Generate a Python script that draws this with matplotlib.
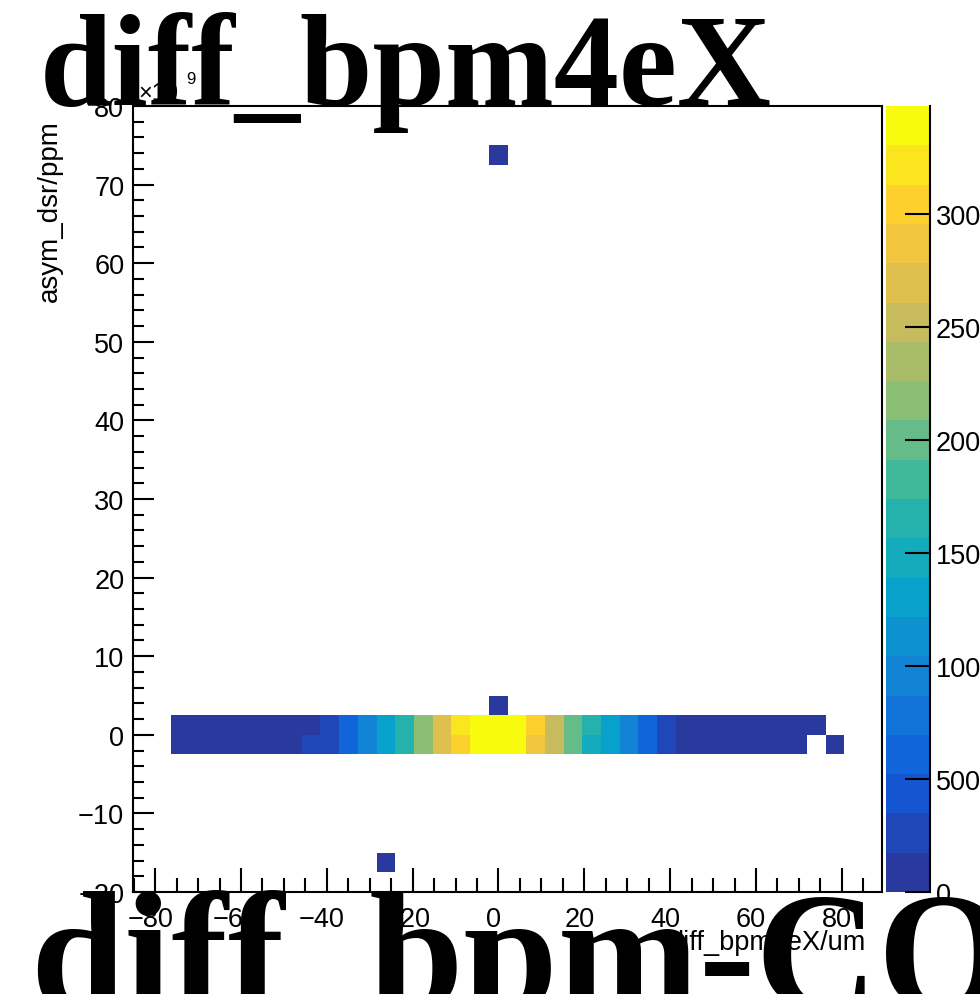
import numpy as np
import matplotlib
matplotlib.use("Agg")
import matplotlib.pyplot as plt
import matplotlib.transforms as mtransforms
from matplotlib.colors import LinearSegmentedColormap, BoundaryNorm
from matplotlib.ticker import MultipleLocator

plt.rcParams['font.family'] = ['Liberation Sans', 'DejaVu Sans']

# histogram frame: 40 x 40 bins, as in a TTree::Draw 2D plot
x_range = (-85.1, 89.3)
y_range = (-20.0, 80.0)
n_bins = 40
z_max = 3480.
n_levels = 20

# the two filled rows around asym = 0, counts start at x bin 2
first_bin = 2
row_upper_y = 1.25
row_lower_y = -1.25
counts_upper = [6, 10, 15, 24, 38, 60, 95, 150, 300, 610, 960, 1300, 1650,
                2170, 2700, 3210, 3380, 3440, 3400, 3050, 2520, 2000, 1650,
                1300, 960, 600, 270, 150, 100, 65, 40, 25, 15, 8, 4]
counts_lower = [5, 9, 14, 22, 36, 58, 100, 230, 330, 620, 950, 1310, 1640,
                2180, 2690, 3050, 3390, 3460, 3380, 2880, 2530, 2010, 1500,
                1290, 950, 620, 260, 140, 90, 60, 38, 22, 12, 6, 0, 2]

# stray single entries
stray_x = [0.0, 0.0, -26.2]
stray_y = [3.75, 73.75, -16.25]
stray_n = [1, 1, 1]

cbar_ticks = [0, 500, 1000, 1500, 2000, 2500, 3000]

# ROOT kBird palette (low end as it shows in the picture, a bit bluer)
bird_stops = [0.0, 0.125, 0.25, 0.375, 0.5, 0.625, 0.75, 0.875, 1.0]
bird_red = [0.165, 0.0592, 0.0780, 0.0232, 0.1802, 0.5301, 0.8186, 0.9956, 0.9764]
bird_green = [0.225, 0.3599, 0.5041, 0.6419, 0.7178, 0.7492, 0.7328, 0.7862, 0.9832]
bird_blue = [0.615, 0.8684, 0.8385, 0.7914, 0.6425, 0.4662, 0.3499, 0.1968, 0.0539]
bird = LinearSegmentedColormap.from_list(
    'bird', list(zip(bird_stops, zip(bird_red, bird_green, bird_blue))), N=256)


#*****************************************************
x_edges = np.linspace(x_range[0], x_range[1], n_bins + 1)
y_edges = np.linspace(y_range[0], y_range[1], n_bins + 1)
x_cent = 0.5 * (x_edges[:-1] + x_edges[1:])

xs = list(x_cent[first_bin:first_bin + len(counts_upper)]) \
    + list(x_cent[first_bin:first_bin + len(counts_lower)]) + stray_x
ys = [row_upper_y] * len(counts_upper) + [row_lower_y] * len(counts_lower) + stray_y
ws = counts_upper + counts_lower + stray_n

fig = plt.figure(figsize=(9.8, 9.95), dpi=100)

# frame in pixels: x 133..882, y 107..893
ax = fig.add_axes([133.3 / 980., 1 - 893. / 995, 748.4 / 980., 786. / 995])
cax = fig.add_axes([886. / 980, 1 - 893. / 995, 44. / 980, 786. / 995])

levels = np.linspace(0, z_max, n_levels + 1)
norm = BoundaryNorm(levels, ncolors=256)

h = ax.hist2d(xs, ys, bins=[x_edges, y_edges], weights=ws, cmin=0.5,
              cmap=bird, norm=norm, edgecolors='none')

ax.set_xlim(x_range)
ax.set_ylim(y_range)

ax.xaxis.set_major_locator(MultipleLocator(20))
ax.xaxis.set_minor_locator(MultipleLocator(5))
ax.yaxis.set_major_locator(MultipleLocator(10))
ax.yaxis.set_minor_locator(MultipleLocator(2))

ax.tick_params(which='both', direction='in', top=False, right=False,
               width=1.5, labelsize=19.5)
ax.tick_params(axis='x', which='major', length=17, pad=10)
ax.tick_params(axis='x', which='minor', length=10)
ax.tick_params(axis='y', which='major', length=15, pad=6.5)
ax.tick_params(axis='y', which='minor', length=8)
for sp in ax.spines.values():
    sp.set_linewidth(1.5)

# labels sit a little left of their ticks in the original
shift = mtransforms.ScaledTranslation(-5 / 100., 0, fig.dpi_scale_trans)
for lab in ax.get_xticklabels():
    lab.set_transform(lab.get_transform() + shift)

ax.set_ylabel("asym_dsr/ppm", fontsize=20, ha='right')
ax.yaxis.set_label_coords(-0.094, 0.983)
ax.set_xlabel("diff_bpm4eX/um", fontsize=19.5, ha='right', va='top')
ax.xaxis.set_label_coords(0.979, -0.047)

# palette axis
cb = fig.colorbar(h[3], cax=cax, ticks=cbar_ticks, spacing='proportional')
cb.outline.set_visible(False)
cb.minorticks_off()
cax.tick_params(direction='in', length=18, width=1.5, pad=4, labelsize=19.5)
cax.plot([1, 1], [0, 1], transform=cax.transAxes, color='k', lw=1.5,
         clip_on=False)

# exponent label at top of the y axis
fig.text(138. / 980, 1 - 100. / 995, u"\u00d710", fontsize=17, va='baseline')
fig.text(186. / 980, 1 - 84. / 995, "9", fontsize=12, va='baseline')

# big titles, drawn over the frame
fig.text(40. / 980, 1 - 105. / 995, "diff_bpm4eX", fontsize=94,
         family='Liberation Serif', weight='bold', va='baseline')
fig.text(30. / 980, 1 - 1009. / 995, "diff_bpm-CO", fontsize=122,
         family='Liberation Serif', weight='bold', va='baseline')

fig.savefig("out.png", dpi=100)
